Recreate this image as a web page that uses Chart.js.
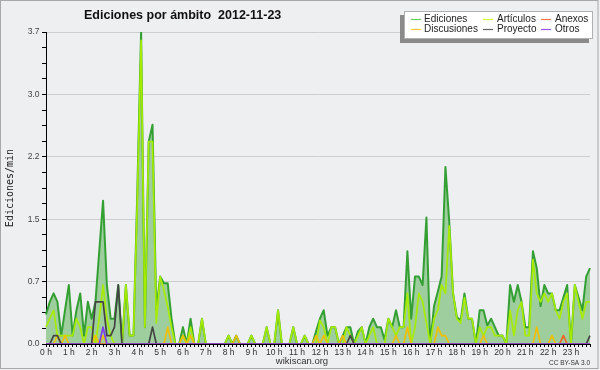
<!DOCTYPE html>
<html><head><meta charset="utf-8">
<script src="https://cdn.jsdelivr.net/npm/chart.js@4/dist/chart.umd.min.js"></script>
<style>html,body{margin:0;padding:0;background:#eeeff1;}canvas{display:block}</style>
</head><body>
<canvas id="c" width="600" height="370"></canvas>
<script>
// ---- data ----
const chartTitle = 'Ediciones por ámbito  2012-11-23';
const yAxisTitle = 'Ediciones/min';
const hourLabels = ['0 h','1 h','2 h','3 h','4 h','5 h','6 h','7 h','8 h','9 h','10 h','11 h','12 h','13 h','14 h','15 h','16 h','17 h','18 h','19 h','20 h','21 h','22 h','23 h'];
const minuteSlots = ['00','10','20','30','40','50'];
const yMajorTicks = [0, 0.74, 1.48, 2.22, 2.96, 3.7];
const yTickLabels = ['0.0','0.7','1.5','2.2','3.0','3.7'];
const seriesNames = ['Ediciones','Artículos','Anexos','Discusiones','Proyecto','Otros'];

const ediciones = [
0.35,0.5,0.6,0.5,0.1,0.4, 0.7,0.1,0.4,0.6,0.1,0.5, 0.3,0.5,1.1,1.7,0.7,0.3,
0.3,0.7,0,0.7,0.1,0.1, 1.8,3.7,0.2,2.4,2.6,0.4, 0.8,0.72,0.72,0.3,0,0,
0.2,0,0.3,0,0,0.3, 0,0,0,0,0,0, 0.1,0,0.1,0,0,0, 0.1,0,0,0,0.2,0,
0,0.4,0,0,0,0.2, 0,0,0.1,0,0,0.15, 0.3,0.4,0.1,0.2,0.2,0, 0.1,0.2,0.2,0,0.15,0.2,
0,0.2,0.3,0.2,0.2,0.05, 0.3,0.2,0.4,0.2,0.2,1.1, 0.3,0.8,0.8,0.7,1.5,0,
0.45,0.62,0.8,2.1,1.45,0.6, 0.32,0.28,0.6,0.3,0.3,0, 0.4,0.4,0.22,0.3,0.2,0.1,
0.1,0,0.7,0.5,0.7,0.5, 0.2,0.2,1.1,0.9,0.45,0.7, 0.6,0.6,0.4,0.4,0.55,0.7,
0,0.7,0.55,0.4,0.8,0.9];
const articulos = [
0.2,0.3,0.4,0.1,0.1,0.1, 0.1,0.1,0.3,0.2,0,0.2, 0.2,0,0.3,0.7,0.3,0.1,
0,0,0,0.7,0.1,0.1, 1.7,3.6,0.2,2.4,2.4,0.25, 0.8,0.64,0.44,0.2,0,0,
0.1,0,0.2,0,0,0.3, 0,0,0,0,0,0, 0.1,0,0,0,0,0, 0.1,0,0,0,0.2,0,
0,0.4,0,0,0,0.2, 0,0,0.1,0,0,0, 0.28,0.2,0,0.2,0.2,0, 0,0.2,0.1,0,0.1,0.2,
0,0.1,0.2,0,0,0, 0.3,0.2,0.1,0.2,0.2,0.6, 0,0.2,0.6,0.5,0.25,0,
0.3,0.4,0.7,0.6,1.4,0.6, 0.3,0.25,0.55,0.3,0.3,0, 0.2,0.1,0.2,0.2,0.1,0.1,
0.1,0,0.4,0.1,0.4,0.5, 0.1,0.1,1.0,0.6,0.5,0.6, 0.5,0.6,0.4,0.3,0.5,0.6,
0,0.7,0.5,0.3,0.5,0.5];
const anexos = [
0,0,0,0,0,0, 0,0,0,0,0,0, 0,0,0,0,0,0, 0,0,0,0,0,0, 0,0,0,0,0,0, 0,0,0,0,0,0,
0,0,0,0,0,0, 0,0,0,0,0,0, 0,0,0,0,0,0, 0,0,0,0,0,0, 0,0,0,0,0,0, 0,0,0,0,0,0,
0,0,0,0,0,0, 0,0,0,0,0,0, 0,0,0,0,0,0, 0,0,0,0,0,0, 0,0,0,0,0,0, 0,0,0,0,0,0,
0,0,0,0,0,0, 0,0,0,0,0,0, 0,0,0,0,0,0, 0,0,0,0,0,0, 0,0,0,0,0.1,0, 0,0,0,0,0,0];
const discusiones = [
0,0,0,0.1,0,0.1, 0,0,0,0,0,0, 0,0.1,0,0.1,0,0, 0,0,0,0,0,0, 0,0,0,0,0,0, 0,0,0.2,0,0,0,
0.1,0,0.1,0,0,0, 0,0,0,0,0,0, 0,0,0.1,0,0,0, 0,0,0,0,0,0, 0,0,0,0,0,0, 0,0,0,0,0,0.1,
0,0.1,0,0,0,0, 0.1,0,0,0,0,0, 0,0,0,0,0,0, 0,0,0.1,0,0,0.2, 0,0,0,0,0,0, 0,0.2,0.1,0.1,0,0,
0,0,0,0,0,0, 0,0.1,0,0,0,0, 0,0,0,0,0,0, 0,0,0,0.2,0,0, 0,0.1,0,0,0,0, 0,0,0,0,0,0];
const proyecto = [
0,0,0.1,0.1,0,0, 0,0,0,0,0,0, 0,0.5,0.5,0.5,0.1,0.1, 0.2,0.7,0,0,0,0, 0,0,0,0,0.2,0, 0,0,0,0,0,0,
0,0,0,0,0,0, 0,0,0,0,0,0, 0,0,0,0,0,0, 0,0,0,0,0,0, 0,0,0,0,0,0, 0,0,0,0,0,0,
0,0,0,0,0,0, 0,0,0.1,0,0,0, 0,0,0,0,0,0, 0,0,0,0,0,0, 0,0,0,0,0,0, 0,0,0,0,0,0,
0,0,0,0,0,0, 0,0,0,0,0,0, 0,0,0,0,0,0, 0,0,0,0,0,0, 0,0,0,0,0,0, 0,0,0,0,0,0.1];
const otros = [
0,0,0,0,0,0, 0,0,0,0,0,0, 0,0,0,0.2,0,0, 0,0,0,0,0,0, 0,0,0,0,0,0, 0,0,0,0,0,0,
0,0,0,0,0,0, 0,0,0,0,0,0, 0,0,0,0,0,0, 0,0,0,0,0,0, 0,0,0,0,0,0, 0,0,0,0,0,0,
0,0,0,0,0,0, 0,0,0,0,0,0, 0,0,0,0,0,0, 0,0,0,0,0,0, 0,0,0,0,0,0, 0,0,0,0,0,0,
0,0,0,0,0,0, 0,0,0,0,0,0, 0,0,0,0,0,0, 0,0,0,0,0,0, 0,0,0,0,0,0, 0,0,0,0,0,0];

// ---- styles ----
const lineColors = ['#34a034','#a6ec00','#ee6622','#f0c000','#444444','#7a3cf0'];
const legendColors = ['#66cc66','#ccff33','#ff7744','#ffcc33','#666666','#9955ff'];
const bg = '#eeeff1';

const times = [];
hourLabels.forEach((h, hi) => minuteSlots.forEach(m => times.push(String(hi).padStart(2,'0') + ':' + m)));

const yAllTicks = [];
for (let k = 0; k < yMajorTicks.length; k++) {
  yAllTicks.push(yMajorTicks[k]);
  if (k < yMajorTicks.length - 1) {
    const a = yMajorTicks[k], b = yMajorTicks[k+1];
    for (let j = 1; j < 4; j++) yAllTicks.push(a + (b - a) * j / 4);
  }
}

const seriesData = [ediciones, articulos, anexos, discusiones, proyecto, otros];
const drawOrder = [6, 5, 2, 4, 3, 1];
const datasets = seriesData.map((d, k) => ({
  label: seriesNames[k],
  data: d,
  borderColor: lineColors[k],
  borderWidth: k === 0 ? 2 : 1.7,
  borderJoinStyle: 'round',
  backgroundColor: k === 0 ? 'rgb(158,205,158)' : 'transparent',
  fill: k === 0 ? 'origin' : false,
  order: drawOrder[k],
  pointRadius: 0,
  tension: 0
}));

const decor = {
  id: 'decor',
  beforeDraw(chart) {
    const c = chart.ctx;
    c.save();
    c.fillStyle = bg;
    c.fillRect(0, 0, 600, 370);
    c.restore();
  },
  afterDraw(chart) {
    const c = chart.ctx;
    c.save();
    // outer border
    c.strokeStyle = '#a8a8a8';
    c.lineWidth = 1;
    c.strokeRect(0.5, 0.5, 597.5, 368);
    // title
    c.fillStyle = '#111';
    c.font = 'bold 12.5px "Liberation Sans"';
    c.textBaseline = 'alphabetic';
    c.textAlign = 'left';
    c.fillText(chartTitle, 84, 18.5);
    // legend box with shadow
    c.fillStyle = '#8a8a8a';
    c.fillRect(400, 15, 189, 28);
    c.fillStyle = '#ffffff';
    c.fillRect(404, 11, 189, 28);
    c.strokeStyle = '#b0b0b0';
    c.strokeRect(404.5, 11.5, 188, 27);
    const cols = [[411, 424], [483, 497], [541, 555]];
    const rows = [19.5, 29.5];
    const slots = [[0,0,0],[1,0,1],[2,0,2],[3,1,0],[4,1,1],[5,1,2]];
    c.font = '10px "Liberation Sans"';
    c.textBaseline = 'middle';
    slots.forEach(([k, r, col]) => {
      c.strokeStyle = legendColors[k];
      c.lineWidth = 1.2;
      c.beginPath();
      c.moveTo(cols[col][0], rows[r]);
      c.lineTo(cols[col][0] + 10, rows[r]);
      c.stroke();
      c.fillStyle = '#222';
      c.fillText(seriesNames[k], cols[col][1], rows[r]);
    });
    // footer
    c.textBaseline = 'alphabetic';
    c.textAlign = 'center';
    c.fillStyle = '#333';
    c.font = '9.5px "Liberation Sans"';
    c.fillText('wikiscan.org', 302, 364);
    c.textAlign = 'right';
    c.font = '6.5px "Liberation Sans"';
    c.fillText('CC BY-SA 3.0', 590, 365);
    c.restore();
  }
};

new Chart(document.getElementById('c'), {
  type: 'line',
  data: { labels: times, datasets },
  options: {
    responsive: false,
    animation: false,
    events: [],
    layout: { padding: { top: 32, right: 10, left: 0, bottom: 0 } },
    plugins: { legend: { display: false }, tooltip: { enabled: false }, title: { display: false } },
    scales: {
      x: {
        type: 'category',
        offset: false,
        grid: { color: 'rgba(0,0,0,0)', drawOnChartArea: false, tickColor: '#000', tickLength: 3, tickWidth: 1 },
        border: { color: '#000', width: 1 },
        ticks: {
          autoSkip: false, maxRotation: 0, minRotation: 0, padding: 1,
          color: '#333', font: { family: 'Liberation Sans', size: 8.5 },
          callback: (v, i) => (i % 6 === 0 ? hourLabels[i / 6] : '')
        },
        afterFit: (s) => { s.height = 26; }
      },
      y: {
        min: 0, max: 3.7,
        afterBuildTicks: (s) => { s.ticks = yAllTicks.map(v => ({ value: v })); },
        grid: {
          color: (ctx) => (ctx.index % 4 === 0 && ctx.index > 0 ? '#cdced0' : 'rgba(0,0,0,0)'),
          tickColor: '#000', tickLength: 4, lineWidth: 1
        },
        border: { color: '#000', width: 1 },
        ticks: {
          autoSkip: false, padding: 2.5, color: '#444',
          font: { family: 'Liberation Sans', size: 8.5 },
          callback: (v, i) => (i % 4 === 0 ? yTickLabels[i / 4] : '')
        },
        title: {
          display: true, text: yAxisTitle, color: '#222',
          font: { family: 'DejaVu Sans Mono', size: 10 },
          padding: { top: 4, bottom: 0 }
        },
        afterFit: (s) => { s.width = 46; }
      }
    }
  },
  plugins: [decor]
});
</script>
</body></html>
